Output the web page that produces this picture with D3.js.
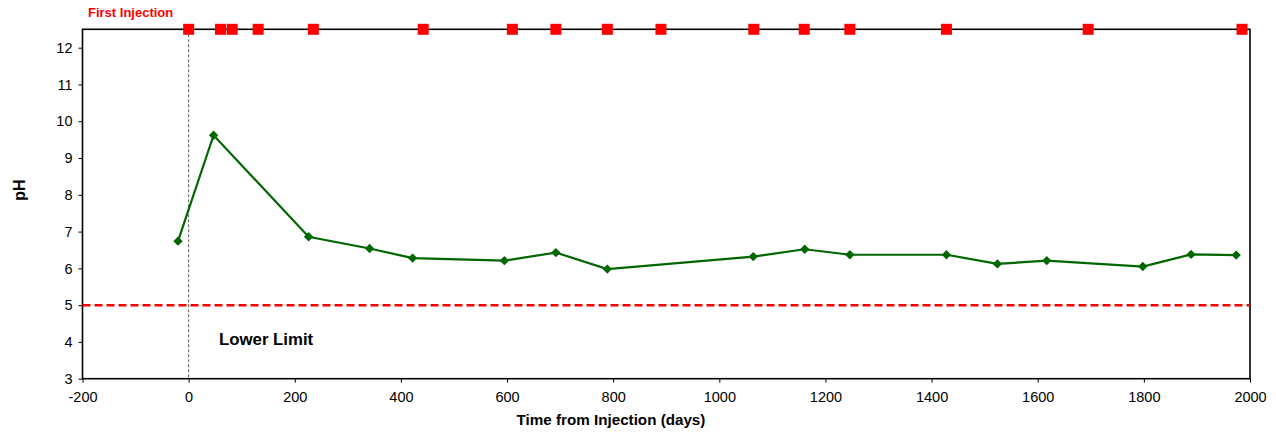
<!DOCTYPE html>
<html><head><meta charset="utf-8">
<script src="https://d3js.org/d3.v7.min.js"></script>
<style>body{margin:0;background:#fff}svg{display:block}text{font-family:"Liberation Sans",Arial,sans-serif}</style>
</head><body><svg id="c" width="1276" height="432"></svg>
<script>
const days = [-20, 47, 226, 341, 422, 595, 692, 789, 1064, 1161, 1246, 1428, 1524, 1617, 1798, 1889, 1974];
const ph = [6.74, 9.62, 6.86, 6.54, 6.28, 6.21, 6.43, 5.98, 6.32, 6.52, 6.37, 6.37, 6.12, 6.21, 6.05, 6.38, 6.36];
const injectionDays = [0, 60, 82, 131, 235, 442, 610, 692, 789, 890, 1065, 1160, 1246, 1428, 1695, 1985];
const injectionLevel = 12.5;
const lowerLimit = 5;
const xTicks = [-200, 0, 200, 400, 600, 800, 1000, 1200, 1400, 1600, 1800, 2000];
const yTicks = [3, 4, 5, 6, 7, 8, 9, 10, 11, 12];

const svg = d3.select("#c");
const L = 82.5, R = 1250, T = 29.3, B = 378.7;
const x = d3.scaleLinear().domain([-200, 2000]).range([L, R]);
const y = d3.scaleLinear().domain([3, 12.5]).range([B, T]);
const fmt = d => String(d);

// axes
const xa = svg.append("g").attr("transform", `translate(0,${B})`)
  .call(d3.axisBottom(x).tickValues(xTicks).tickFormat(fmt).tickSize(4).tickSizeOuter(0).tickPadding(6));
const ya = svg.append("g").attr("transform", `translate(${L},0)`)
  .call(d3.axisLeft(y).tickValues(yTicks).tickFormat(fmt).tickSize(4).tickSizeOuter(0).tickPadding(6));
[xa, ya].forEach(a => {
  a.selectAll("text").attr("font-size", 14.5).attr("fill", "#000").style("font-family", "Liberation Sans, Arial, sans-serif");
  a.selectAll("line").attr("stroke", "#000");
  a.select(".domain").attr("stroke", "none");
});
xa.selectAll("text").attr("dy", "0.9em");

// frame
svg.append("rect").attr("x", L).attr("y", T).attr("width", R - L).attr("height", B - T)
  .attr("fill", "none").attr("stroke", "#000").attr("stroke-width", 1.6);

// vertical dashed line at 0
svg.append("line").attr("x1", x(0)).attr("x2", x(0)).attr("y1", T).attr("y2", B)
  .attr("stroke", "#333").attr("stroke-width", 0.8).attr("stroke-dasharray", "3,2");

// lower limit
svg.append("line").attr("x1", L).attr("x2", R).attr("y1", y(lowerLimit)).attr("y2", y(lowerLimit))
  .attr("stroke", "#ff0000").attr("stroke-width", 2.5).attr("stroke-dasharray", "8,4");

// line
const pts = days.map((d, i) => [d, ph[i]]);
svg.append("path").datum(pts)
  .attr("d", d3.line().x(d => x(d[0])).y(d => y(d[1])))
  .attr("fill", "none").attr("stroke", "#006600").attr("stroke-width", 2.2);
svg.append("g").selectAll("path").data(pts).join("path")
  .attr("transform", d => `translate(${x(d[0])},${y(d[1])}) rotate(45)`)
  .attr("d", "M-3.3,-3.3H3.3V3.3H-3.3Z").attr("fill", "#006600");

// injection markers
svg.append("g").selectAll("rect").data(injectionDays).join("rect")
  .attr("x", d => x(d) - 5.5).attr("y", y(injectionLevel) - 5.5)
  .attr("width", 11).attr("height", 11).attr("fill", "#ff0000");

// texts
svg.append("text").attr("x", 88).attr("y", 17).attr("fill", "#ff0000")
  .attr("font-size", 13).attr("font-weight", "bold").text("First Injection");
svg.append("text").attr("x", 219).attr("y", 345).attr("fill", "#000")
  .attr("font-size", 16.8).attr("font-weight", "bold").text("Lower Limit");
svg.append("text").attr("transform", "translate(25,190) rotate(-90)").attr("text-anchor", "middle")
  .attr("font-size", 16).attr("font-weight", "bold").text("pH");
svg.append("text").attr("x", 611).attr("y", 425).attr("text-anchor", "middle")
  .attr("font-size", 15.2).attr("font-weight", "bold").text("Time from Injection (days)");
</script></body></html>
